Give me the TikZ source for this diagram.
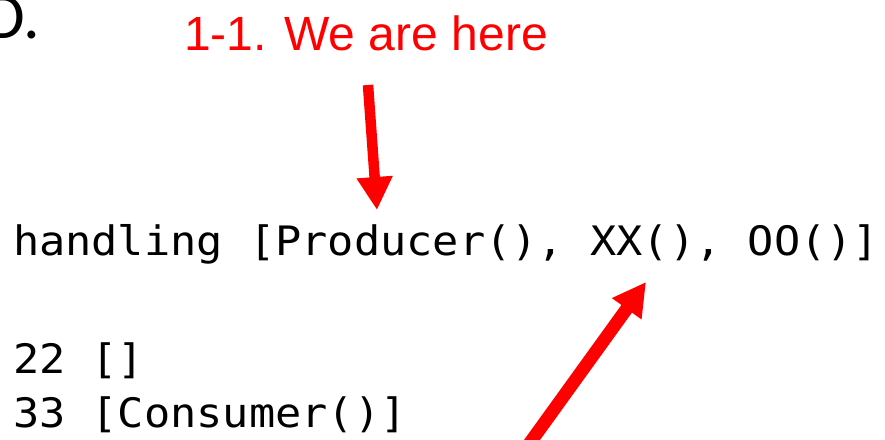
\documentclass[tikz,border=0pt]{standalone}
\usepackage{fontspec}
\setmainfont{Liberation Sans}
\newfontfamily\codefont{DejaVu Sans Mono}
\newfontfamily\headfont{Carlito}
\usetikzlibrary{arrows.meta}
\definecolor{markred}{RGB}{255,0,0}
\tikzset{
  codeline/.style={anchor=base west, inner sep=0pt, outer sep=0pt,
    font=\codefont\fontsize{43.6}{44}\selectfont},
  note/.style={anchor=base west, inner sep=0pt, outer sep=0pt, text=markred,
    font=\fontsize{48}{48}\selectfont},
  pointer/.style={draw=markred, line width=#1,
    -{Triangle[width=34pt,length=33pt]}},
}
\newcommand{\squeezed}[1]{\scalebox{1}[0.93]{#1}}
\begin{document}
\begin{tikzpicture}[x=1pt,y=-1pt]
  \clip (0,0) rectangle (885,439);
  % tail of the slide heading
  \node[anchor=base east, inner sep=0pt, font=\headfont\fontsize{66}{66}\selectfont]
    (head) at (40,38) {D.};
  % annotation
  \node[note] (note) at (184,50) {1-1. We are here};
  % program output
  \node[codeline] (l1) at (13,255) {\squeezed{handling [Producer(), XX(), OO()]}};
  \node[codeline] (l2) at (13,373) {\squeezed{22 []}};
  \node[codeline] (l3) at (13,427) {\squeezed{33 [Consumer()]}};
  % arrows
  \coordinate (p1s) at (368,85);
  \coordinate (p1e) at (377,210);
  \coordinate (p2s) at (519,458);
  \coordinate (p2e) at (646,282);
  \draw[pointer=10.5pt] (p1s) -- (p1e);
  \draw[pointer=13pt] (p2s) -- (p2e);
\end{tikzpicture}
\end{document}
